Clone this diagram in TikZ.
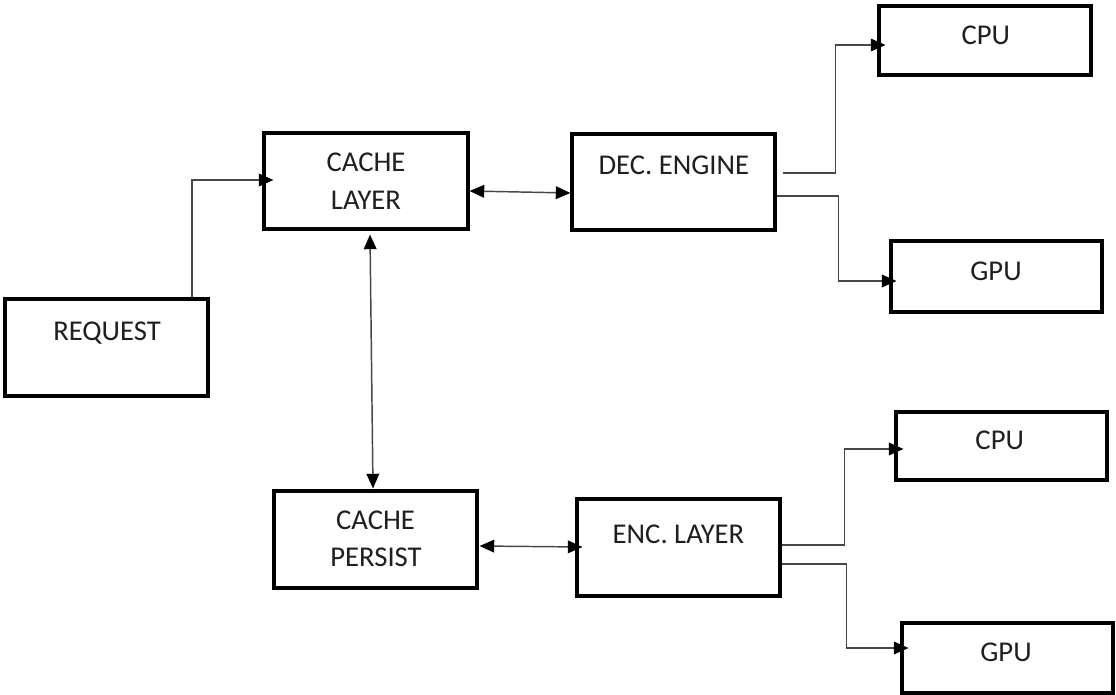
\documentclass[tikz,border=0pt]{standalone}
\usepackage{fontspec}
\setmainfont{Carlito}
\usetikzlibrary{calc,arrows.meta}
\begin{document}
\begin{tikzpicture}[x=0.75pt,y=-0.75pt,
  box/.style={draw=black,line width=2.3pt,inner sep=0pt,fill=white},
  lbl/.style={anchor=base,inner sep=0pt,text=black!88,font=\fontsize{21.5}{26}\selectfont},
  conn/.style={draw=black!72,line width=1.1pt,-{Triangle[length=11pt,width=9.5pt,color=black]}},
  conn2/.style={draw=black!72,line width=1.1pt,{Triangle[length=11pt,width=9.5pt,color=black]}-{Triangle[length=11pt,width=9.5pt,color=black]}}]
\useasboundingbox (0,0) rectangle (1116,695);
\fill[white] (0,0) rectangle (1116,695);
% boxes
\node[box,minimum width=203*0.75pt,minimum height=97*0.75pt] (req) at (106.5,347.5) {};
\node[box,minimum width=204*0.75pt,minimum height=96*0.75pt] (cl) at (366,181) {};
\node[box,minimum width=203*0.75pt,minimum height=96*0.75pt] (dec) at (673.5,182) {};
\node[box,minimum width=212*0.75pt,minimum height=69*0.75pt] (cpu1) at (985,40.5) {};
\node[box,minimum width=211*0.75pt,minimum height=71*0.75pt] (gpu1) at (996.5,276.5) {};
\node[box,minimum width=203*0.75pt,minimum height=97*0.75pt] (cp) at (375.5,539.5) {};
\node[box,minimum width=203*0.75pt,minimum height=97*0.75pt] (enc) at (678.5,547.5) {};
\node[box,minimum width=211*0.75pt,minimum height=68*0.75pt] (cpu2) at (1001.5,446) {};
\node[box,minimum width=211*0.75pt,minimum height=70*0.75pt] (gpu2) at (1007.5,658) {};
% labels
\node[lbl] (treq) at (107,340) {REQUEST};
\node[lbl] (tcl1) at (366,171.7) {CACHE};
\node[lbl] (tcl2) at (366,210) {LAYER};
\node[lbl] (tdec) at (673.8,175) {DEC. ENGINE};
\node[lbl] (tcpu1) at (985.8,45) {CPU};
\node[lbl] (tgpu1) at (996,280) {GPU};
\node[lbl] (tcp1) at (375.5,529) {CACHE};
\node[lbl] (tcp2) at (376,566.7) {PERSIST};
\node[lbl] (tenc) at (678.5,543.3) {ENC. LAYER};
\node[lbl] (tcpu2) at (999.7,449.3) {CPU};
\node[lbl] (tgpu2) at (1006,661.7) {GPU};
% connectors
\draw[conn] ($(req.north)+(85.5,0)$) |- ($(cl.west)+(11,-1)$);
\draw[conn2] ($(cl.east)+(0,10)$) -- ($(dec.west)+(0,11)$);
\draw[conn2] ($(cl.south)+(4,4)$) -- ($(cp.north)+(-2.5,-1)$);
\draw[conn2] ($(cp.east)+(1,6.5)$) -- ($(enc.west)+(7,-0.5)$);
\draw[conn] ($(dec.east)+(6,-9)$) -- ++(53,0) |- ($(cpu1.west)+(8,4.5)$);
\draw[conn] ($(dec.east)+(0,14)$) -- ++(62,0) |- ($(gpu1.west)+(7,4.5)$);
\draw[conn] ($(enc.east)+(0,-2.5)$) -- ++(63,0) |- ($(cpu2.west)+(9,3)$);
\draw[conn] ($(enc.east)+(0,16.5)$) -- ++(65,0) |- ($(gpu2.west)+(8,-10)$);
\end{tikzpicture}
\end{document}
